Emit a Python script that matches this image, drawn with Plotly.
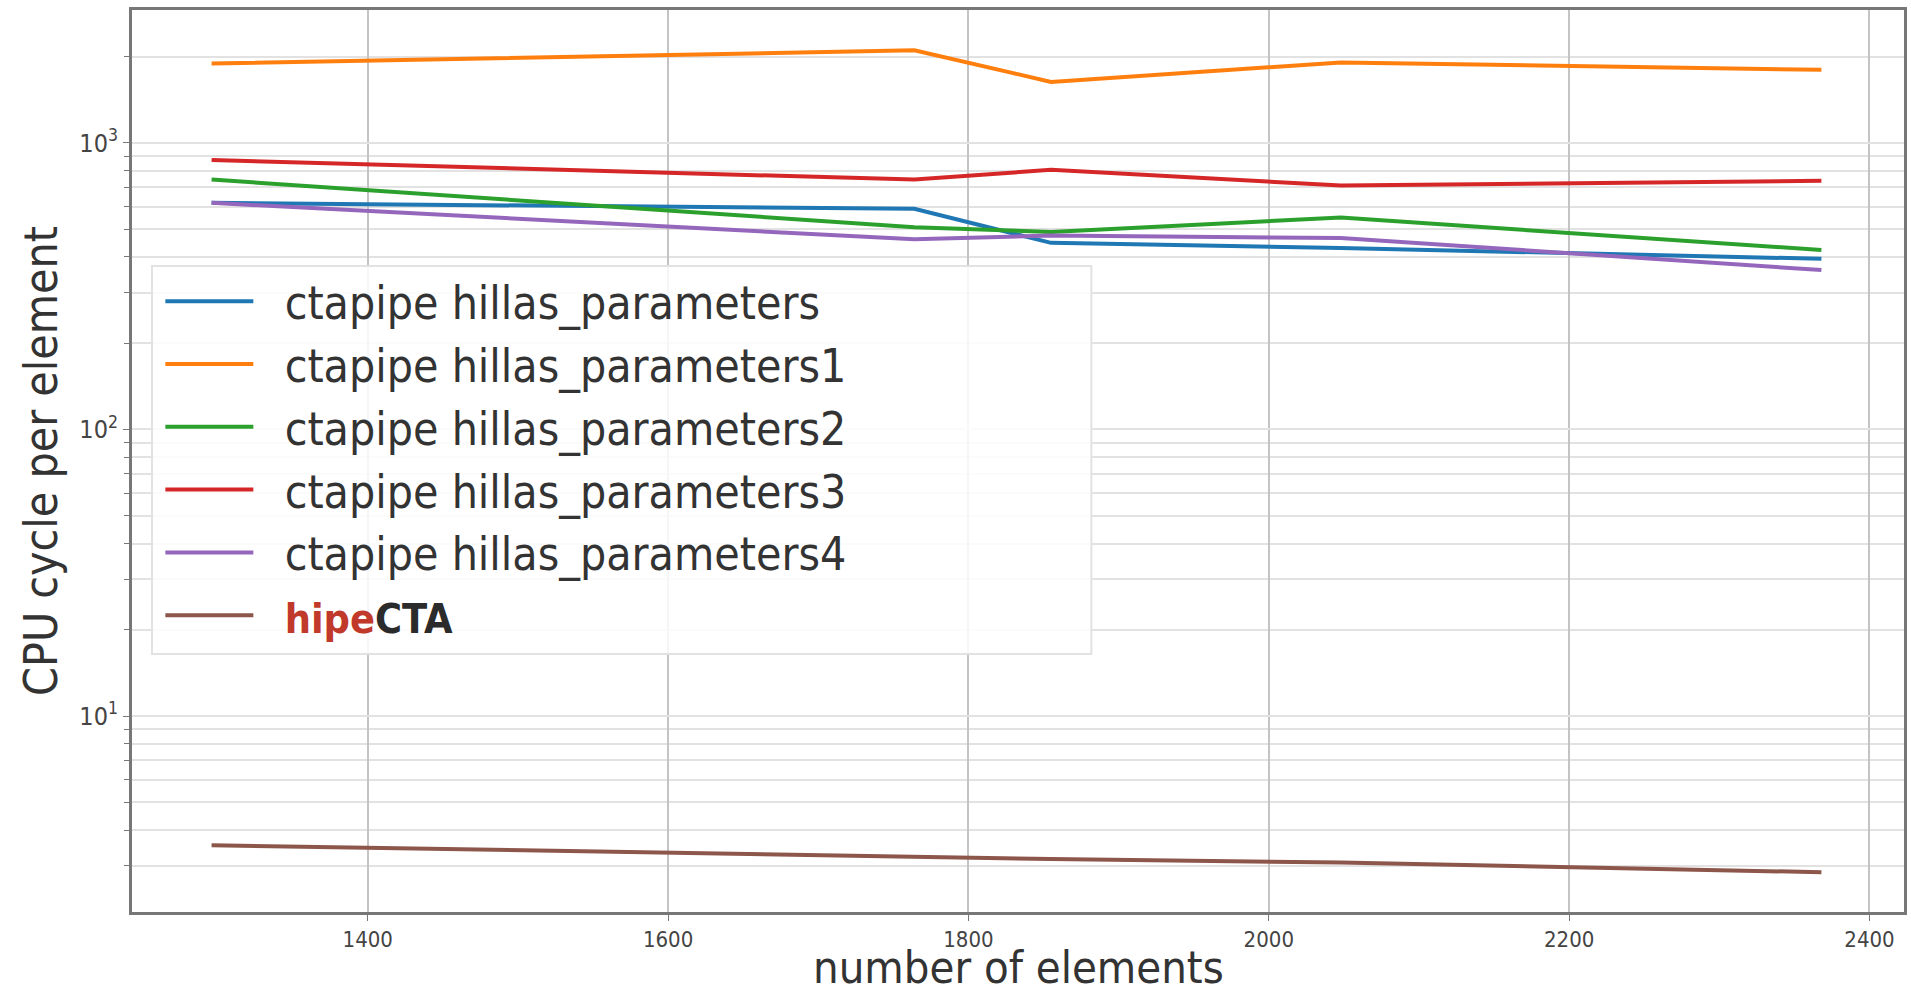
import plotly.graph_objects as go

n_elements = [1296, 1764, 1855, 2048, 2368]

hillas = [618, 589, 448, 430, 394]
hillas1 = [1892, 2105, 1633, 1910, 1800]
hillas2 = [745, 508, 489, 549, 423]
hillas3 = [872, 745, 806, 710, 738]
hillas4 = [618, 461, 475, 466, 360]
hipecta = [3.54, 3.21, 3.17, 3.08, 2.85]

series_names = [
    "ctapipe hillas_parameters",
    "ctapipe hillas_parameters1",
    "ctapipe hillas_parameters2",
    "ctapipe hillas_parameters3",
    "ctapipe hillas_parameters4",
    "<span style='font-size:41px'><b><span style='color:#c0392b'>hipe</span>"
    "<span style='color:#2b2b2b'>CTA</span></b></span>",
]
series_values = [hillas, hillas1, hillas2, hillas3, hillas4, hipecta]
colors = ["#1f77b4", "#ff7f0e", "#2ca02c", "#d62728", "#9467bd", "#8c564b"]

x_ticks = [1400, 1600, 1800, 2000, 2200, 2400]
y_major_vals = [10, 100, 1000]
y_major_text = ["10<sup>1</sup>", "10<sup>2</sup>", "10<sup>3</sup>"]
x_title = "number of elements"
y_title = "CPU cycle per element"

FONT = "DejaVu Sans Condensed, DejaVu Sans, sans-serif"
GAP = "\u00a0\u00a0"

fig = go.Figure()
for name, vals, col in zip(series_names, series_values, colors):
    fig.add_trace(go.Scatter(x=n_elements, y=vals, mode="lines", name=GAP + name,
                             line=dict(color=col, width=4)))

y_minor = [d * m for d in [1, 10, 100, 1000] for m in range(2, 10) if 2 <= d * m <= 3000]

# legend frame (semi-transparent white box)
fig.add_shape(type="rect", xref="paper", yref="paper",
              x0=0.0113, x1=0.5414, y0=0.286, y1=0.7162,
              fillcolor="rgba(255,255,255,0.85)",
              line=dict(color="#e2e2e2", width=2), layer="above")

# x-axis title as annotation (keeps plot area fixed)
fig.add_annotation(text=x_title, xref="paper", yref="paper", x=0.5, y=-0.0615,
                   xanchor="center", yanchor="middle", showarrow=False,
                   font=dict(size=45, family=FONT, color="#333333"))

fig.update_layout(
    width=1911, height=994,
    margin=dict(l=132, r=4, t=10, b=82),
    paper_bgcolor="white", plot_bgcolor="white",
    font=dict(family=FONT, color="#333333"),
    showlegend=True,
    legend=dict(
        x=0.016, y=0.7175, xanchor="left", yanchor="top",
        bgcolor="rgba(0,0,0,0)", borderwidth=0,
        font=dict(size=46, family=FONT, color="#333333"),
        itemwidth=88, tracegroupgap=0,
    ),
    xaxis=dict(
        range=[1243, 2423], tickvals=x_ticks,
        tickfont=dict(size=22, color="#444444"),
        showgrid=True, gridcolor="#c4c4c4", gridwidth=2,
        showline=True, linecolor="#777777", linewidth=3, mirror=True,
        ticks="outside", ticklen=6, tickcolor="#777777",
        automargin=False,
        zeroline=False,
    ),
    yaxis=dict(
        type="log", range=[0.316, 3.464],
        tickvals=y_major_vals, ticktext=y_major_text,
        tickfont=dict(size=25, color="#444444"),
        showgrid=True, gridcolor="#e2e2e2", gridwidth=2,
        minor=dict(tickvals=y_minor, showgrid=True, gridcolor="#e2e2e2", gridwidth=2,
                   ticks="outside", ticklen=5, tickcolor="#777777"),
        showline=True, linecolor="#777777", linewidth=3, mirror=True,
        ticks="outside", ticklen=6, tickcolor="#777777",
        title=dict(text=y_title, font=dict(size=46, color="#333333"), standoff=8),
        zeroline=False,
    ),
)

fig.write_html("out.html")
